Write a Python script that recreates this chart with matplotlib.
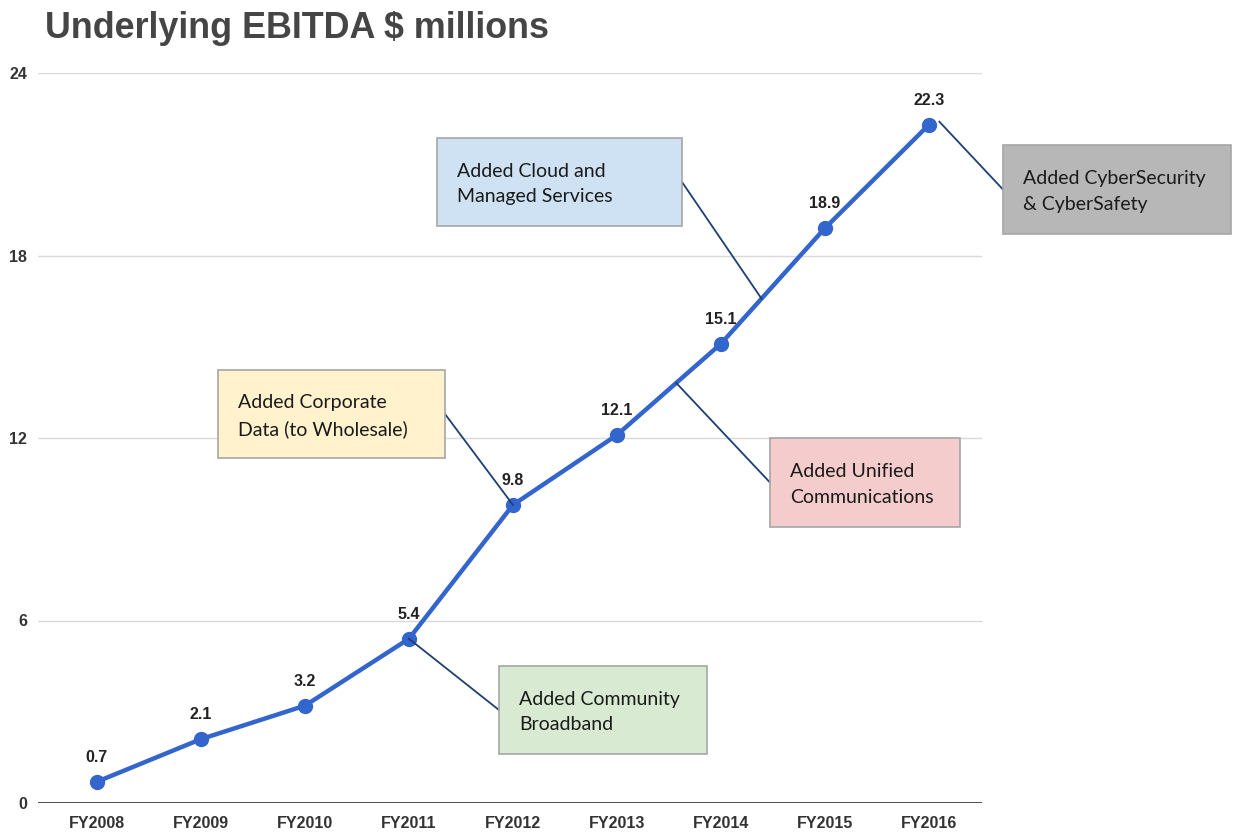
import matplotlib
matplotlib.use("Agg")
import matplotlib.pyplot as plt
import numpy as np
from matplotlib.patches import Rectangle

years = ["FY2008", "FY2009", "FY2010", "FY2011", "FY2012", "FY2013", "FY2014", "FY2015", "FY2016"]
ebitda = [0.7, 2.1, 3.2, 5.4, 9.8, 12.1, 15.1, 18.9, 22.3]
yticks = [0, 6, 12, 18, 24]

notes = ["Added Cloud and\nManaged Services",
         "Added CyberSecurity\n& CyberSafety",
         "Added Corporate\nData (to Wholesale)",
         "Added Unified\nCommunications",
         "Added Community\nBroadband"]
note_colors = ["#cfe2f3", "#b7b7b7", "#fff2cc", "#f4cccc", "#d9ead3"]
# anchor x positions (category index) on the line
note_anchor_x = [6.39, 8.1, 4.0, 5.57, 3.0]
# box layout in figure pixels: left, top, right, bottom, connector side ('l' or 'r')
note_boxes = [(437, 138, 682, 226, 'r'),
              (1003, 145, 1231, 234, 'l'),
              (218, 370, 445, 458, 'r'),
              (770, 438, 960, 527, 'l'),
              (499, 666, 707, 754, 'l')]

W, H = 1233, 832
fig = plt.figure(figsize=(W / 100, H / 100), dpi=100)
ax = fig.add_axes([38 / W, 1 - 803 / H, (982 - 38) / W, (803 - 73) / H])

x = np.arange(len(years))
ax.plot(x, ebitda, color="#3366cc", lw=3.2, marker="o", ms=10, zorder=5, solid_capstyle="round")
for xi, v in zip(x, ebitda):
    ax.annotate(f"{v}", (xi, v), xytext=(0, 12), textcoords="offset points",
                ha="center", va="bottom", fontsize=11.5, fontweight="bold", color="#222222",
                family="Liberation Sans", zorder=6)

ax.set_xlim(-0.567, 8.51)
ax.set_ylim(0, 24)
ax.set_yticks(yticks)
ax.set_xticks(x)
ax.set_xticklabels(years)
for s in ax.spines.values():
    s.set_visible(False)
ax.grid(axis="y", color="#d9d9d9", lw=1)
ax.axhline(0, color="#333333", lw=1.2, zorder=3)
ax.tick_params(length=0)
ax.tick_params(axis="y", pad=8)
ax.tick_params(axis="x", pad=9)
for lab in ax.get_xticklabels() + ax.get_yticklabels():
    lab.set_fontweight("bold")
    lab.set_fontsize(11.5)
    lab.set_color("#333333")
    lab.set_family("Liberation Sans")

fig.text(45 / W, 1 - 29 / H, "Underlying EBITDA $ millions", fontsize=25.8, fontweight="bold",
         color="#454545", va="center", ha="left", family="Liberation Sans")

def fx(px):
    return px / W

def fy(py):
    return 1 - py / H

for txt, col, axv, box in zip(notes, note_colors, note_anchor_x, note_boxes):
    l, t, r, b, side = box
    fig.patches.append(Rectangle((fx(l), fy(b)), fx(r) - fx(l), fy(t) - fy(b),
                                 transform=fig.transFigure, facecolor=col,
                                 edgecolor="#a6a6a6", lw=1.2, zorder=10))
    fig.text(fx(l + 20), fy((t + b) / 2 + 2), txt, fontsize=14, family="Lato", color="#1a1a1a",
             va="center", ha="left", linespacing=1.58, zorder=11)
    ay = np.interp(axv, x, ebitda)
    if axv > 8:
        ay = 22.4
    ex, ey = (r if side == 'r' else l), (t + b) / 2
    ax_pt = ax.transData.transform((axv, ay))
    fig_pt = fig.transFigure.inverted().transform(ax_pt)
    fig.add_artist(plt.Line2D([fx(ex), fig_pt[0]], [fy(ey), fig_pt[1]], transform=fig.transFigure,
                              color="#1f3f73", lw=1.3, zorder=9))

fig.savefig("out.png", dpi=100)
